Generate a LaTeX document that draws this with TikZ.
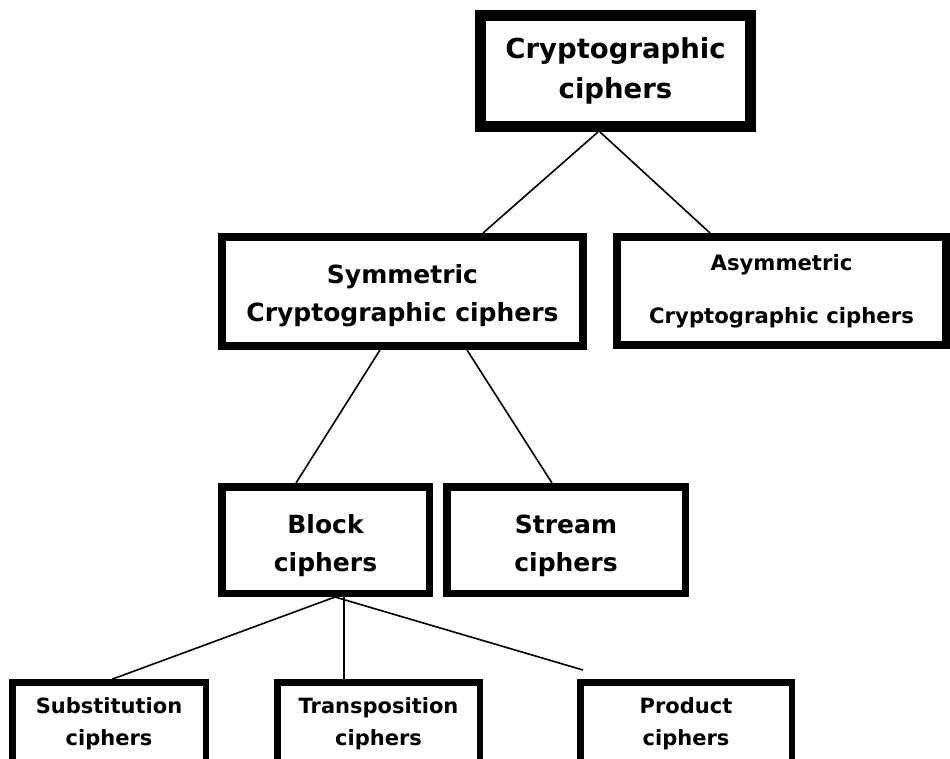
\documentclass[tikz,border=0pt]{standalone}
\usepackage{fontspec}
\setmainfont{DejaVu Sans}
\newcommand{\mystrut}[1]{\rule{0pt}{#1}}
\newcommand{\mydeep}{\rule[-90pt]{0pt}{0pt}}
\begin{document}
\begin{tikzpicture}[x=1pt,y=-1pt,
  box/.style={draw=black, rectangle, inner sep=0pt, align=center, text=black},
  topbox/.style={box, line width=11pt, minimum width=270pt, minimum height=111pt,
    font=\fontsize{27.5}{40}\selectfont\bfseries},
  midbox/.style={box, line width=8pt, font=\fontsize{25}{38}\selectfont\bfseries},
  asymbox/.style={box, line width=8pt, font=\fontsize{21.2}{53}\selectfont\bfseries},
  lowbox/.style={box, line width=7.5pt, minimum height=106.5pt,
    font=\fontsize{25}{38}\selectfont\bfseries},
  leafbox/.style={box, line width=6.5pt, anchor=north, inner ysep=14.75pt,
    font=\fontsize{21}{32}\selectfont\bfseries},
  link/.style={draw=black, line width=1.6pt}
]
\useasboundingbox (0,0) rectangle (950,758);
\clip (0,0) rectangle (950,758);

\node[topbox] (top) at (615.5,71) {Cryptographic\\ciphers};
\node[midbox, minimum width=361pt, minimum height=109pt] (sym) at (402.5,291.5)
  {\mystrut{27pt}Symmetric\\Cryptographic ciphers};
\node[asymbox, minimum width=329pt, minimum height=108pt] (asym) at (781.5,291)
  {Asymmetric\\Cryptographic ciphers};
\node[lowbox, minimum width=207.5pt] (block) at (325.5,540)
  {\mystrut{30pt}Block\\ciphers};
\node[lowbox, minimum width=238.5pt] (stream) at (566,540)
  {\mystrut{30pt}Stream\\ciphers};
\node[leafbox, minimum width=193.5pt] (sub) at (109,679.25)
  {Substitution\\ciphers\mydeep};
\node[leafbox, minimum width=202.5pt] (trans) at (378.5,679.25)
  {Transposition\\ciphers\mydeep};
\node[leafbox, minimum width=211.5pt] (prod) at (686,679.25)
  {Product\\ciphers\mydeep};
\coordinate (prodend) at (583,670);

\draw[link] ([xshift=-17.5pt]top.south) -- ([xshift=80.5pt]sym.north);
\draw[link] ([xshift=-15.5pt]top.south) -- ([xshift=-71.5pt]asym.north);
\draw[link] ([xshift=-22.5pt]sym.south) -- ([xshift=-29.5pt]block.north);
\draw[link] ([xshift=64.5pt]sym.south) -- ([xshift=-14pt]stream.north);
\draw[link] ([xshift=9.5pt]block.south) -- ([xshift=3pt]sub.north);
\draw[link, line width=1.1pt] ([xshift=18.5pt]block.south) -- ([xshift=-34.5pt]trans.north);
\draw[link] ([xshift=9.5pt]block.south) -- (prodend);
\end{tikzpicture}
\end{document}
